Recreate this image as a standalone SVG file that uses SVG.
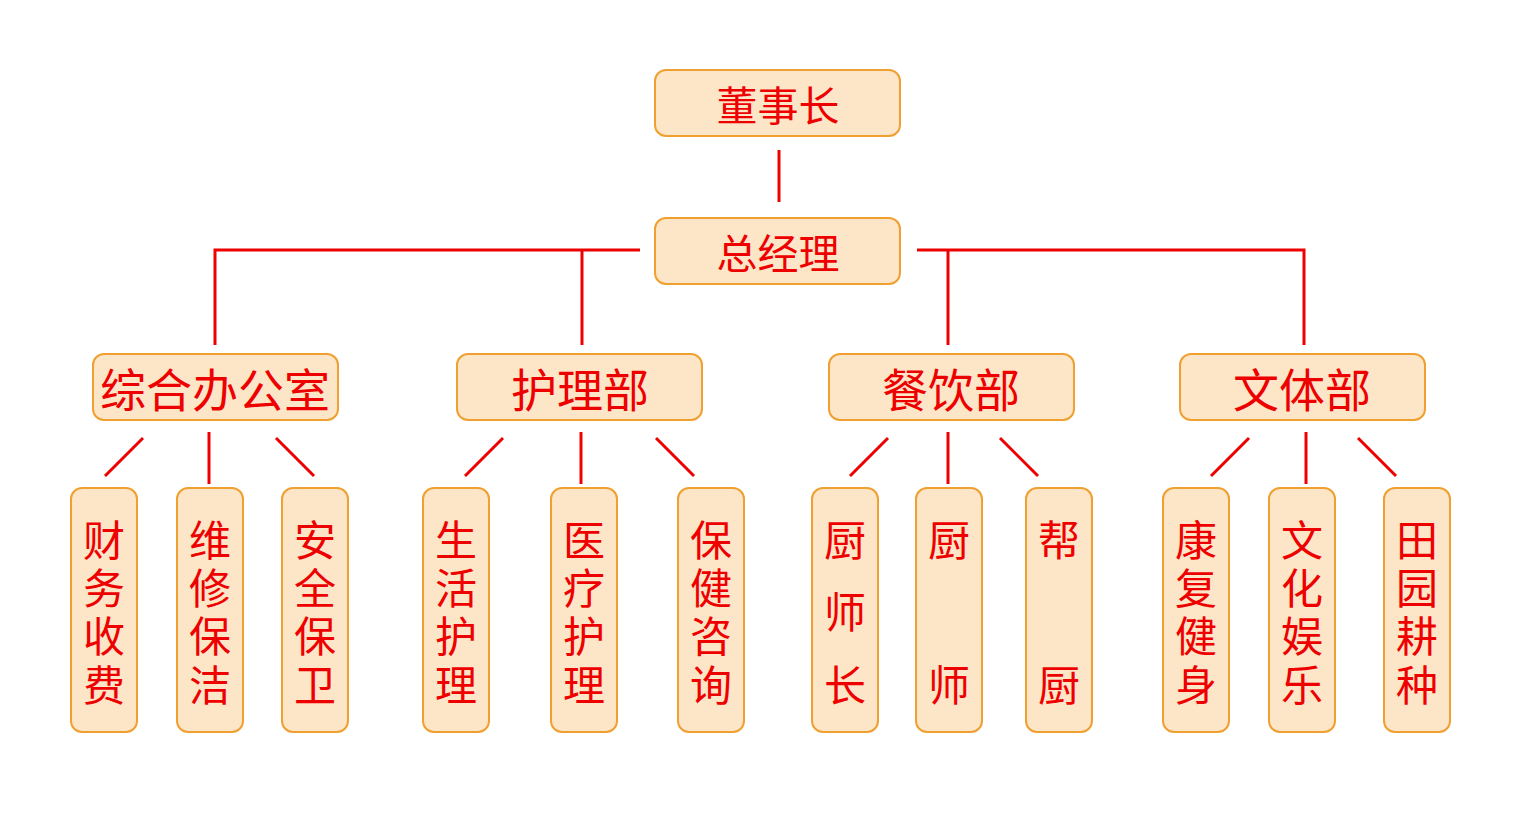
<svg xmlns="http://www.w3.org/2000/svg" width="1520" height="818" viewBox="0 0 1520 818">
<style>
.box{fill:#fde6c8;stroke:#f0a030;stroke-width:2}
.t{fill:#ee0000;font-family:"Noto Sans CJK SC","Noto Sans CJK JP",sans-serif;text-anchor:middle;dominant-baseline:central}
.t1{font-size:41px}
.t2{font-size:46px}
.t3{font-size:42px}
.c line,.c polyline{stroke:#ee0000;stroke-width:3;fill:none}
</style>
<rect width="1520" height="818" fill="#fff"/>
<g class="c" id="connectors">
<line x1="779" y1="150" x2="779" y2="202"/>
<polyline points="640,250 215,250 215,345"/>
<line x1="582" y1="250" x2="582" y2="345"/>
<polyline points="917,250 1304,250 1304,345"/>
<line x1="948" y1="250" x2="948" y2="345"/>
<line x1="143" y1="438" x2="105" y2="476"/><line x1="209" y1="432" x2="209" y2="484"/><line x1="276" y1="438" x2="314" y2="476"/>
<line x1="503" y1="438" x2="465" y2="476"/><line x1="581" y1="432" x2="581" y2="484"/><line x1="656" y1="438" x2="694" y2="476"/>
<line x1="888" y1="438" x2="850" y2="476"/><line x1="948" y1="432" x2="948" y2="484"/><line x1="1000" y1="438" x2="1038" y2="476"/>
<line x1="1249" y1="438" x2="1211" y2="476"/><line x1="1306" y1="432" x2="1306" y2="484"/><line x1="1358" y1="438" x2="1396" y2="476"/>
</g>
<g id="n-dongshizhang"><rect class="box" x="655" y="70" width="245" height="66" rx="11"/><text class="t t1" x="778" y="103">董事长</text></g>
<g id="n-zongjingli"><rect class="box" x="655" y="218" width="245" height="66" rx="11"/><text class="t t1" x="778" y="251">总经理</text></g>
<g id="n-zonghe"><rect class="box" x="93" y="354" width="245" height="66" rx="11"/><text class="t t2" x="215" y="387">综合办公室</text></g>
<g id="n-huli"><rect class="box" x="457" y="354" width="245" height="66" rx="11"/><text class="t t2" x="580" y="387">护理部</text></g>
<g id="n-canyin"><rect class="box" x="829" y="354" width="245" height="66" rx="11"/><text class="t t2" x="951" y="387">餐饮部</text></g>
<g id="n-wenti"><rect class="box" x="1180" y="354" width="245" height="66" rx="11"/><text class="t t2" x="1302" y="387">文体部</text></g>

<g id="n-caiwu"><rect class="box" x="71" y="488" width="66" height="244" rx="11"/><text class="t t3" x="104"><tspan x="104" y="537">财</tspan><tspan x="104" y="585">务</tspan><tspan x="104" y="633">收</tspan><tspan x="104" y="682">费</tspan></text></g>
<g id="n-weixiu"><rect class="box" x="177" y="488" width="66" height="244" rx="11"/><text class="t t3" x="210"><tspan x="210" y="537">维</tspan><tspan x="210" y="585">修</tspan><tspan x="210" y="633">保</tspan><tspan x="210" y="682">洁</tspan></text></g>
<g id="n-anquan"><rect class="box" x="282" y="488" width="66" height="244" rx="11"/><text class="t t3" x="315"><tspan x="315" y="537">安</tspan><tspan x="315" y="585">全</tspan><tspan x="315" y="633">保</tspan><tspan x="315" y="682">卫</tspan></text></g>

<g id="n-shenghuo"><rect class="box" x="423" y="488" width="66" height="244" rx="11"/><text class="t t3" x="456"><tspan x="456" y="537">生</tspan><tspan x="456" y="585">活</tspan><tspan x="456" y="633">护</tspan><tspan x="456" y="682">理</tspan></text></g>
<g id="n-yiliao"><rect class="box" x="551" y="488" width="66" height="244" rx="11"/><text class="t t3" x="584"><tspan x="584" y="537">医</tspan><tspan x="584" y="585">疗</tspan><tspan x="584" y="633">护</tspan><tspan x="584" y="682">理</tspan></text></g>
<g id="n-baojian"><rect class="box" x="678" y="488" width="66" height="244" rx="11"/><text class="t t3" x="711"><tspan x="711" y="537">保</tspan><tspan x="711" y="585">健</tspan><tspan x="711" y="633">咨</tspan><tspan x="711" y="682">询</tspan></text></g>

<g id="n-chushizhang"><rect class="box" x="812" y="488" width="66" height="244" rx="11"/><text class="t t3" x="845"><tspan x="845" y="537">厨</tspan><tspan x="845" y="609">师</tspan><tspan x="845" y="682">长</tspan></text></g>
<g id="n-chushi"><rect class="box" x="916" y="488" width="66" height="244" rx="11"/><text class="t t3" x="949"><tspan x="949" y="537">厨</tspan><tspan x="949" y="682">师</tspan></text></g>
<g id="n-bangchu"><rect class="box" x="1026" y="488" width="66" height="244" rx="11"/><text class="t t3" x="1059"><tspan x="1059" y="537">帮</tspan><tspan x="1059" y="682">厨</tspan></text></g>

<g id="n-kangfu"><rect class="box" x="1163" y="488" width="66" height="244" rx="11"/><text class="t t3" x="1196"><tspan x="1196" y="537">康</tspan><tspan x="1196" y="585">复</tspan><tspan x="1196" y="633">健</tspan><tspan x="1196" y="682">身</tspan></text></g>
<g id="n-wenhua"><rect class="box" x="1269" y="488" width="66" height="244" rx="11"/><text class="t t3" x="1302"><tspan x="1302" y="537">文</tspan><tspan x="1302" y="585">化</tspan><tspan x="1302" y="633">娱</tspan><tspan x="1302" y="682">乐</tspan></text></g>
<g id="n-tianyuan"><rect class="box" x="1384" y="488" width="66" height="244" rx="11"/><text class="t t3" x="1417"><tspan x="1417" y="537">田</tspan><tspan x="1417" y="585">园</tspan><tspan x="1417" y="633">耕</tspan><tspan x="1417" y="682">种</tspan></text></g>
</svg>
